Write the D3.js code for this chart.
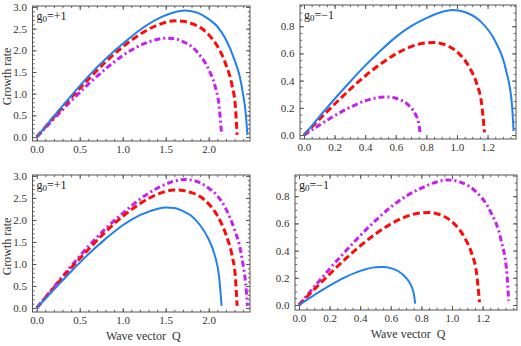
<!DOCTYPE html>
<html>
<head>
<meta charset="utf-8">
<script src="https://cdn.jsdelivr.net/npm/d3@7"></script>
<style>
  body { margin: 0; background: #fff; }
</style>
</head>
<body>
<div id="vis"></div>
<script>
// growth rate vs wave vector Q

// g0 = +1 curves
const qPlusBig = [0, 0.1, 0.2, 0.4, 0.6, 0.8, 1.0, 1.2, 1.4, 1.6, 1.72, 1.85, 2.0, 2.1, 2.2, 2.3, 2.36, 2.4, 2.43, 2.45];
const gPlusBig = [0, 0.24, 0.48, 0.95, 1.40, 1.80, 2.15, 2.47, 2.72, 2.88, 2.92, 2.88, 2.72, 2.55, 2.25, 1.78, 1.40, 0.98, 0.55, 0.05];
const qPlusMid = [0, 0.2, 0.4, 0.6, 0.8, 1.0, 1.2, 1.4, 1.6, 1.7, 1.8, 1.9, 2.0, 2.1, 2.2, 2.27, 2.31, 2.33];
const gPlusMid = [0, 0.46, 0.91, 1.33, 1.73, 2.08, 2.37, 2.58, 2.68, 2.67, 2.62, 2.53, 2.36, 2.10, 1.67, 1.20, 0.70, 0.05];
const qPlusSmall = [0, 0.2, 0.4, 0.6, 0.8, 1.0, 1.2, 1.4, 1.5, 1.6, 1.7, 1.8, 1.9, 2.0, 2.07, 2.12, 2.15];
const gPlusSmall = [0, 0.42, 0.83, 1.22, 1.57, 1.88, 2.11, 2.25, 2.28, 2.27, 2.20, 2.09, 1.88, 1.56, 1.20, 0.72, 0.05];

// g0 = -1 curves
const qMinusBig = [0, 0.1, 0.2, 0.3, 0.4, 0.5, 0.6, 0.7, 0.8, 0.9, 0.97, 1.05, 1.15, 1.25, 1.32, 1.36, 1.37];
const gMinusBig = [0, 0.134, 0.265, 0.39, 0.51, 0.62, 0.72, 0.80, 0.86, 0.905, 0.92, 0.905, 0.84, 0.69, 0.48, 0.22, 0.03];
const qMinusMid = [0, 0.1, 0.2, 0.3, 0.4, 0.5, 0.6, 0.7, 0.8, 0.85, 0.9, 1.0, 1.08, 1.13, 1.16, 1.18];
const gMinusMid = [0, 0.115, 0.227, 0.335, 0.434, 0.522, 0.596, 0.65, 0.678, 0.68, 0.671, 0.612, 0.50, 0.375, 0.24, 0.02];
const qMinusSmall = [0, 0.1, 0.2, 0.3, 0.4, 0.5, 0.55, 0.6, 0.65, 0.7, 0.73, 0.75, 0.76];
const gMinusSmall = [0, 0.073, 0.142, 0.203, 0.251, 0.278, 0.28, 0.271, 0.248, 0.20, 0.15, 0.085, 0.01];

// tick labels
const xTicksPlus = [0, 0.5, 1.0, 1.5, 2.0];
const yTicksPlus = [0, 0.5, 1.0, 1.5, 2.0, 2.5, 3.0];
const xTicksMinus = [0, 0.2, 0.4, 0.6, 0.8, 1.0, 1.2];
const yTicksMinus = [0, 0.2, 0.4, 0.6, 0.8];

const WIDTH = 521;
const HEIGHT = 346;
const SERIF = "Liberation Serif, DejaVu Serif, serif";

const BLUE = "#2080f0";
const RED = "#ff0a0a";
const PURPLE = "#c81ef5";

const STYLE_SOLID = {color: BLUE, width: 2, dash: null};
const STYLE_DASH = {color: RED, width: 3, dash: "7,3.5"};
const STYLE_DOTDASH = {color: PURPLE, width: 3, dash: "6,3,2,3"};

const zip = (q, g) => q.map((d, i) => ({q: d, g: g[i]}));

const svg = d3.select("#vis")
  .append("svg")
    .attr("width", WIDTH)
    .attr("height", HEIGHT);

function drawPanel(p) {
  const x = d3.scaleLinear().domain(p.xDom).range([p.left, p.right]);
  const y = d3.scaleLinear().domain(p.yDom).range([p.bottom, p.top]);
  const g = svg.append("g");
  const id = "clip" + p.name;

  g.append("clipPath").attr("id", id)
    .append("rect")
      .attr("x", p.left).attr("y", p.top)
      .attr("width", p.right - p.left).attr("height", p.bottom - p.top);

  // minor ticks first, then major
  const minorX = d3.range(Math.ceil(p.xDom[0] / p.xMinor), Math.floor(p.xDom[1] / p.xMinor) + 1)
    .map(i => +(i * p.xMinor).toFixed(3));
  const minorY = d3.range(Math.ceil(p.yDom[0] / p.yMinor), Math.floor(p.yDom[1] / p.yMinor) + 1)
    .map(i => +(i * p.yMinor).toFixed(3));

  const axes = [
    [d3.axisBottom(x), p.bottom, 0, minorX, p.xTicks, true, 4],
    [d3.axisTop(x), p.top, 0, minorX, p.xTicks, false, 0],
    [d3.axisLeft(y), 0, p.left, minorY, p.yTicks, true, 5.5],
    [d3.axisRight(y), 0, p.right, minorY, p.yTicks, false, 0]
  ];
  axes.forEach(([ax, ty, tx, minor, major, labels, pad]) => {
    g.append("g")
      .attr("transform", `translate(${tx},${ty})`)
      .call(ax.tickValues(minor).tickSize(-2.2).tickFormat(""))
      .call(s => s.select(".domain").remove())
      .selectAll("line").attr("stroke", "#666");
    const a = g.append("g")
      .attr("transform", `translate(${tx},${ty})`)
      .call(ax.tickValues(major).tickSizeInner(-4).tickSizeOuter(0)
        .tickPadding(pad)
        .tickFormat(labels ? d3.format(".1f") : ""));
    a.attr("font-family", SERIF).attr("font-size", 11);
    a.select(".domain").remove();
    a.selectAll("line").attr("stroke", "#555");
    a.selectAll("text").attr("fill", "#333");
  });

  // curves
  const line = d3.line().x(d => x(d.q)).y(d => y(d.g)).curve(d3.curveMonotoneX);
  p.curves.forEach(c => {
    g.append("path")
      .datum(c.data)
      .attr("clip-path", `url(#${id})`)
      .attr("d", line)
      .attr("fill", "none")
      .attr("stroke", c.style.color)
      .attr("stroke-width", c.style.width)
      .attr("stroke-dasharray", c.style.dash);
  });

  // frame
  g.append("rect")
    .attr("x", p.left).attr("y", p.top)
    .attr("width", p.right - p.left).attr("height", p.bottom - p.top)
    .attr("fill", "none").attr("stroke", "#555").attr("stroke-width", 1);

  // g0 label
  const t = g.append("text")
    .attr("font-family", SERIF).attr("fill", "#222")
    .attr("x", p.left + 4).attr("y", p.top + 14)
    .attr("font-size", 12);
  t.append("tspan").text("g");
  t.append("tspan").attr("font-size", 9).attr("dy", 2).text("0");
  t.append("tspan").attr("dy", -2).text(p.sign);

  if (p.ylabel) {
    g.append("text")
      .attr("font-family", SERIF).attr("fill", "#333")
      .attr("transform", `translate(11,${(p.top + p.bottom) / 2 + 3}) rotate(-90)`)
      .attr("text-anchor", "middle")
      .attr("font-size", 12)
      .text("Growth rate");
  }
  if (p.xlabel) {
    g.append("text")
      .attr("font-family", SERIF).attr("fill", "#333")
      .attr("x", (p.left + p.right) / 2 + 2).attr("y", p.bottom + 28)
      .attr("text-anchor", "middle")
      .attr("font-size", 12)
      .attr("xml:space", "preserve")
      .text("Wave vector  Q");
  }
}

const plusBig = zip(qPlusBig, gPlusBig);
const plusMid = zip(qPlusMid, gPlusMid);
const plusSmall = zip(qPlusSmall, gPlusSmall);
const minusBig = zip(qMinusBig, gMinusBig);
const minusMid = zip(qMinusMid, gMinusMid);
const minusSmall = zip(qMinusSmall, gMinusSmall);

drawPanel({
  name: "a", sign: "=+1", ylabel: true, xlabel: false,
  left: 32.5, right: 250, top: 6, bottom: 141,
  xDom: [-0.049, 2.48], yDom: [-0.092, 3.023],
  xTicks: xTicksPlus, yTicks: yTicksPlus, xMinor: 0.1, yMinor: 0.1,
  curves: [
    {data: plusSmall, style: STYLE_DOTDASH},
    {data: plusMid, style: STYLE_DASH},
    {data: plusBig, style: STYLE_SOLID}
  ]
});

drawPanel({
  name: "b", sign: "=\u22121", ylabel: false, xlabel: false,
  left: 300, right: 516, top: 5, bottom: 139,
  xDom: [-0.026, 1.386], yDom: [-0.029, 0.956],
  xTicks: xTicksMinus, yTicks: yTicksMinus, xMinor: 0.05, yMinor: 0.05,
  curves: [
    {data: minusSmall, style: STYLE_DOTDASH},
    {data: minusMid, style: STYLE_DASH},
    {data: minusBig, style: STYLE_SOLID}
  ]
});

drawPanel({
  name: "c", sign: "=+1", ylabel: true, xlabel: true,
  left: 32.5, right: 250, top: 175, bottom: 312,
  xDom: [-0.049, 2.48], yDom: [-0.09, 3.02],
  xTicks: xTicksPlus, yTicks: yTicksPlus, xMinor: 0.1, yMinor: 0.1,
  curves: [
    {data: plusBig, style: STYLE_DOTDASH},
    {data: plusMid, style: STYLE_DASH},
    {data: plusSmall, style: STYLE_SOLID}
  ]
});

drawPanel({
  name: "d", sign: "=\u22121", ylabel: false, xlabel: true,
  left: 295, right: 517, top: 175, bottom: 310,
  xDom: [-0.026, 1.425], yDom: [-0.037, 0.956],
  xTicks: xTicksMinus, yTicks: yTicksMinus, xMinor: 0.05, yMinor: 0.05,
  curves: [
    {data: minusBig, style: STYLE_DOTDASH},
    {data: minusMid, style: STYLE_DASH},
    {data: minusSmall, style: STYLE_SOLID}
  ]
});
</script>
</body>
</html>
